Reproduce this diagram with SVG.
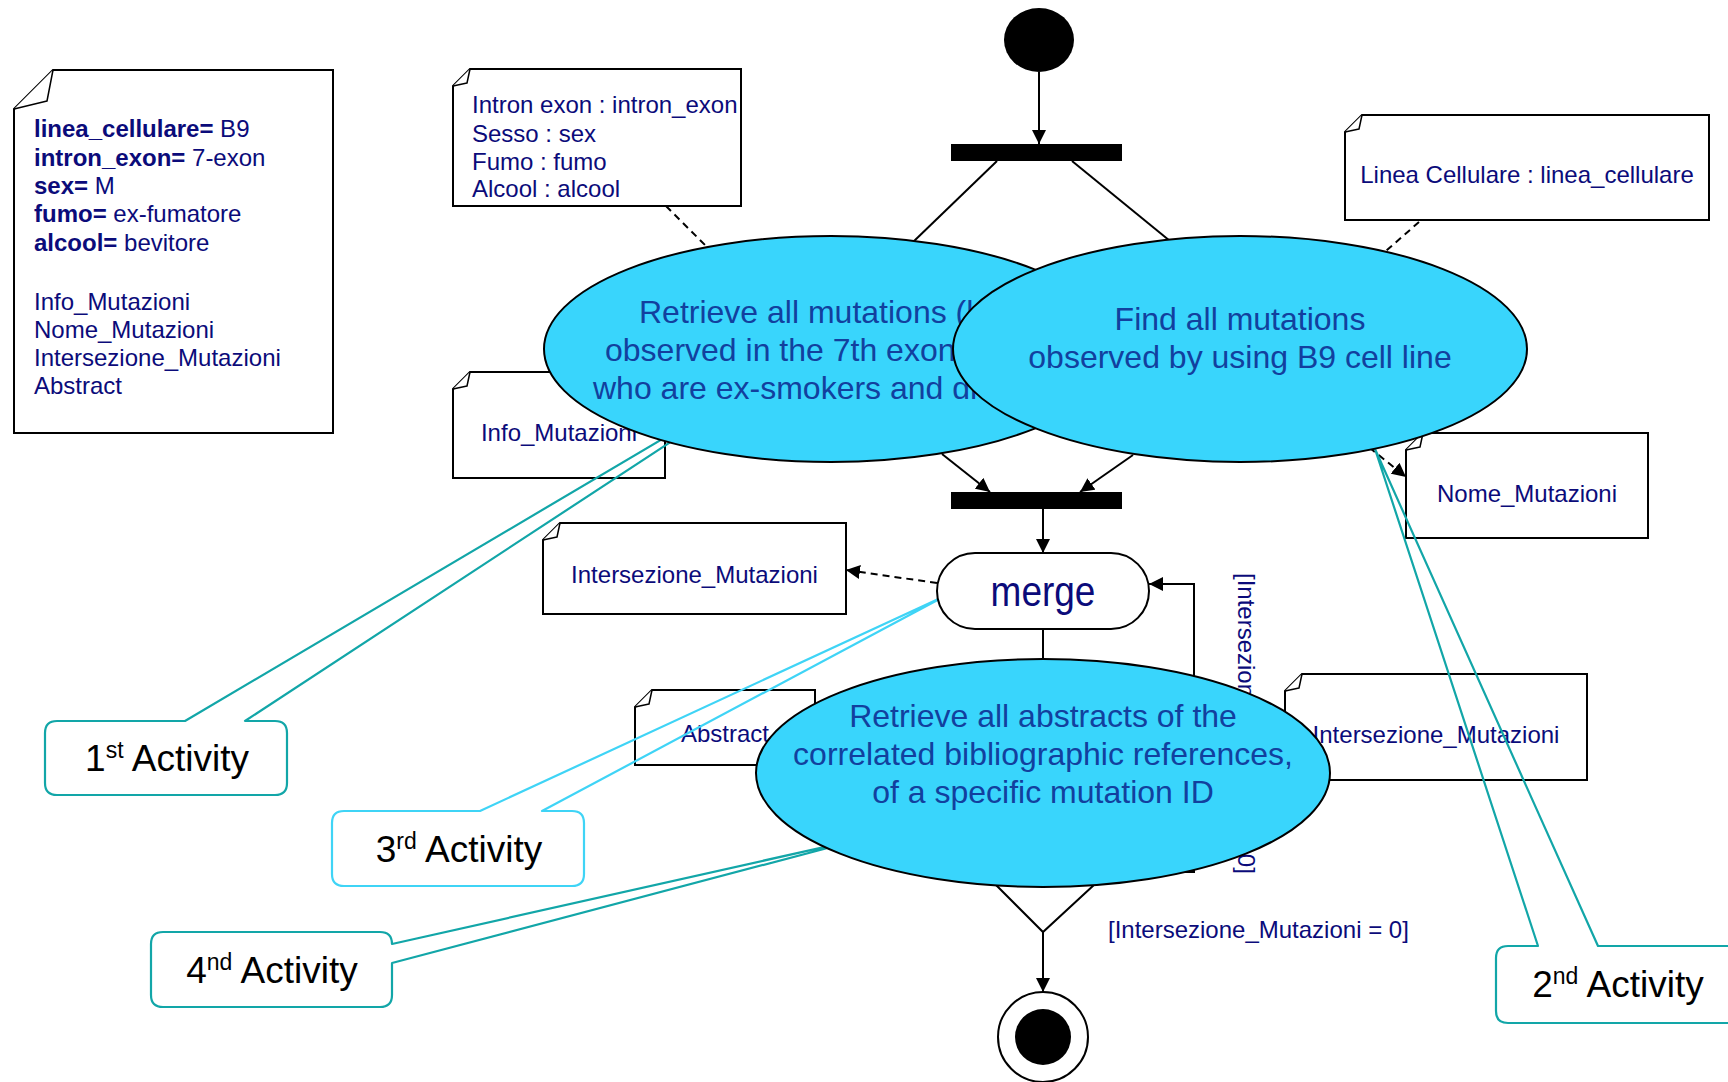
<svg xmlns="http://www.w3.org/2000/svg" width="1728" height="1082" viewBox="0 0 1728 1082">
<defs>
  <marker id="arrow" viewBox="0 0 14 14" refX="14" refY="7" markerWidth="14" markerHeight="14" markerUnits="userSpaceOnUse" orient="auto">
    <path d="M0,0 L14,7 L0,14 Z" fill="#000"/>
  </marker>
</defs>
<style>
  .note { fill:#fff; stroke:#000; stroke-width:2; }
  .fold { fill:#fff; stroke:#000; stroke-width:1.5; stroke-linejoin:round; }
  .ntext { font-family:"Liberation Sans", Arial, sans-serif; font-size:24px; fill:#0b0b7a; }
  .mid { text-anchor:middle; }
  .b { font-weight:bold; }
  .act { fill:#39d5fc; stroke:#000; stroke-width:2; }
  .atext { font-family:"Liberation Sans", Arial, sans-serif; font-size:32px; fill:#12409e; }
  .edge { fill:none; stroke:#000; stroke-width:2; }
  .dash { fill:none; stroke:#000; stroke-width:2; stroke-dasharray:7,5; }
  .callout { fill:none; stroke:#12a6a8; stroke-width:2.2; stroke-linejoin:round; }
  .callout.light { stroke:#3fd4f6; }
  .ctext { font-family:"Liberation Sans", Arial, sans-serif; font-size:37px; fill:#000; text-anchor:middle; }
  .guard { font-family:"Liberation Sans", Arial, sans-serif; font-size:24px; fill:#0b0b7a; }
</style>

<!-- object notes -->
<g id="note-parameters">
  <path class="note" d="M14,109 L53,70 L333,70 L333,433 L14,433 Z"/>
  <path class="fold" d="M53,70 L47,101 L14,109"/>
  <text class="ntext" x="34" y="137"><tspan class="b">linea_cellulare=</tspan> B9</text>
  <text class="ntext" x="34" y="166"><tspan class="b">intron_exon=</tspan> 7-exon</text>
  <text class="ntext" x="34" y="194"><tspan class="b">sex=</tspan> M</text>
  <text class="ntext" x="34" y="222"><tspan class="b">fumo=</tspan> ex-fumatore</text>
  <text class="ntext" x="34" y="251"><tspan class="b">alcool=</tspan> bevitore</text>
  <text class="ntext" x="34" y="310">Info_Mutazioni</text>
  <text class="ntext" x="34" y="338">Nome_Mutazioni</text>
  <text class="ntext" x="34" y="366">Intersezione_Mutazioni</text>
  <text class="ntext" x="34" y="394">Abstract</text>
</g>

<g id="note-intron">
  <path class="note" d="M453,86 L470,69 L741,69 L741,206 L453,206 Z"/>
  <path class="fold" d="M470,69 L467,83 L453,86"/>
  <text class="ntext" x="472" y="113">Intron exon : intron_exon</text>
  <text class="ntext" x="472" y="142">Sesso : sex</text>
  <text class="ntext" x="472" y="170">Fumo : fumo</text>
  <text class="ntext" x="472" y="197">Alcool : alcool</text>
</g>

<g id="note-linea">
  <path class="note" d="M1345,132 L1362,115 L1709,115 L1709,220 L1345,220 Z"/>
  <path class="fold" d="M1362,115 L1359,129 L1345,132"/>
  <text class="ntext mid" x="1527" y="183">Linea Cellulare : linea_cellulare</text>
</g>

<g id="note-info">
  <path class="note" d="M453,389 L470,372 L665,372 L665,478 L453,478 Z"/>
  <path class="fold" d="M470,372 L467,386 L453,389"/>
  <text class="ntext mid" x="559" y="441">Info_Mutazioni</text>
</g>

<g id="note-nome">
  <path class="note" d="M1406,450 L1423,433 L1648,433 L1648,538 L1406,538 Z"/>
  <path class="fold" d="M1423,433 L1420,447 L1406,450"/>
  <text class="ntext mid" x="1527" y="502">Nome_Mutazioni</text>
</g>

<g id="note-intersezione-left">
  <path class="note" d="M543,540 L560,523 L846,523 L846,614 L543,614 Z"/>
  <path class="fold" d="M560,523 L557,537 L543,540"/>
  <text class="ntext mid" x="694.5" y="583">Intersezione_Mutazioni</text>
</g>

<g id="note-abstract">
  <path class="note" d="M635,707 L652,690 L815,690 L815,765 L635,765 Z"/>
  <path class="fold" d="M652,690 L649,704 L635,707"/>
  <text class="ntext mid" x="725" y="742">Abstract</text>
</g>

<g id="note-intersezione-right">
  <path class="note" d="M1285,691 L1302,674 L1587,674 L1587,780 L1285,780 Z"/>
  <path class="fold" d="M1302,674 L1299,688 L1285,691"/>
  <text class="ntext mid" x="1436" y="743">Intersezione_Mutazioni</text>
</g>

<!-- loop guard, partly hidden behind the last activity -->
<g id="guard-loop">
  <text class="guard" transform="translate(1238,573) rotate(90)">[Intersezione_Mutazioni &gt; 0]</text>
</g>

<!-- control flow and object flow -->
<g id="connectors">
  <line class="edge" x1="1039" y1="72" x2="1039" y2="144" marker-end="url(#arrow)"/>
  <line class="edge" x1="997" y1="161" x2="912" y2="243"/>
  <line class="edge" x1="1072" y1="161" x2="1170" y2="241"/>
  <line class="edge" x1="942" y1="454" x2="990" y2="492" marker-end="url(#arrow)"/>
  <line class="edge" x1="1133" y1="455" x2="1080" y2="492" marker-end="url(#arrow)"/>
  <line class="edge" x1="1043" y1="509" x2="1043" y2="553" marker-end="url(#arrow)"/>
  <line class="edge" x1="1043" y1="629" x2="1043" y2="665"/>
  <polyline class="edge" points="1108,872 1194,872 1194,584 1149,584" marker-end="url(#arrow)"/>
  <line class="edge" x1="1043" y1="932" x2="1043" y2="992" marker-end="url(#arrow)"/>
  <line class="dash" x1="666" y1="206" x2="712" y2="252"/>
  <line class="dash" x1="1419" y1="222" x2="1378" y2="258"/>
  <line class="dash" x1="1360" y1="440" x2="1406" y2="477" marker-end="url(#arrow)"/>
  <line class="dash" x1="937" y1="583" x2="846" y2="570" marker-end="url(#arrow)"/>
</g>

<g id="decision">
  <polygon points="1043,812 1108,872 1043,932 983,872" fill="#fff" stroke="#000" stroke-width="2"/>
</g>

<!-- activity callouts -->
<g id="callout-1">
  <path class="callout" d="M185,721 L791,363 L245,721 L275,721 Q287,721 287,733 L287,783 Q287,795 275,795 L57,795 Q45,795 45,783 L45,733 Q45,721 57,721 Z"/>
  <text class="ctext" x="167" y="771">1<tspan dy="-13" font-size="23">st</tspan><tspan dy="13"> Activity</tspan></text>
</g>
<g id="callout-2">
  <path class="callout" d="M1538,946 L1375,449 L1598,946 L1745,946 L1745,1023 L1508,1023 Q1496,1023 1496,1011 L1496,958 Q1496,946 1508,946 Z"/>
  <text class="ctext" x="1618" y="997">2<tspan dy="-13" font-size="23">nd</tspan><tspan dy="13"> Activity</tspan></text>
</g>
<g id="callout-3">
  <path class="callout light" d="M480,811 L947,595 L542,811 L572,811 Q584,811 584,823 L584,874 Q584,886 572,886 L344,886 Q332,886 332,874 L332,823 Q332,811 344,811 Z"/>
  <text class="ctext" x="459" y="862">3<tspan dy="-13" font-size="23">rd</tspan><tspan dy="13"> Activity</tspan></text>
</g>
<g id="callout-4">
  <path class="callout" d="M163,932 L380,932 Q392,932 392,944 L869,837 L392,963 L392,995 Q392,1007 380,1007 L163,1007 Q151,1007 151,995 L151,944 Q151,932 163,932 Z"/>
  <text class="ctext" x="272" y="983">4<tspan dy="-13" font-size="23">nd</tspan><tspan dy="13"> Activity</tspan></text>
</g>

<!-- activities -->
<g id="activity-retrieve-mutations">
  <ellipse class="act" cx="831" cy="349" rx="287" ry="113"/>
  <text class="atext" x="639" y="323">Retrieve all mutations (h</text>
  <text class="atext" x="605" y="361">observed in the 7th exon</text>
  <text class="atext" x="593" y="399">who are ex-smokers and dr</text>
</g>
<g id="activity-find-mutations">
  <ellipse class="act" cx="1240" cy="349" rx="287" ry="113"/>
  <text class="atext mid" x="1240" y="330">Find all mutations</text>
  <text class="atext mid" x="1240" y="368">observed by using B9 cell line</text>
</g>
<g id="activity-retrieve-abstracts">
  <ellipse class="act" cx="1043" cy="773" rx="287" ry="114"/>
  <text class="atext mid" x="1043" y="727">Retrieve all abstracts of the</text>
  <text class="atext mid" x="1043" y="765">correlated bibliographic references,</text>
  <text class="atext mid" x="1043" y="803">of a specific mutation ID</text>
</g>

<g id="merge">
  <rect x="937" y="553" width="212" height="76" rx="38" ry="38" fill="#fff" stroke="#000" stroke-width="2"/>
  <text transform="translate(1043,606) scale(1,1.15)" font-family="'Liberation Sans', Arial, sans-serif" font-size="37" fill="#0b0b7a" text-anchor="middle">merge</text>
</g>

<g id="fork">
  <rect x="951" y="144" width="171" height="17" fill="#000"/>
</g>
<g id="join">
  <rect x="951" y="492" width="171" height="17" fill="#000"/>
</g>

<g id="start">
  <ellipse cx="1039" cy="40" rx="35" ry="32" fill="#000"/>
</g>
<g id="end">
  <circle cx="1043" cy="1037" r="45" fill="#fff" stroke="#000" stroke-width="2"/>
  <circle cx="1043" cy="1037" r="28" fill="#000"/>
</g>

<g id="guard-exit">
  <text class="guard" x="1108" y="938">[Intersezione_Mutazioni = 0]</text>
</g>
</svg>
